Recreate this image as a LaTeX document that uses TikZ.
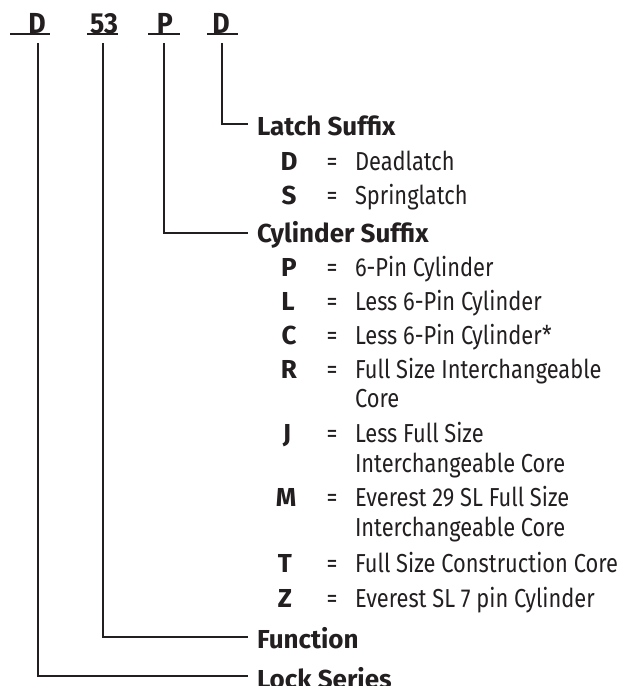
\documentclass[tikz,border=0pt]{standalone}
\usepackage{fontspec}
\setmainfont{Fira Sans}[FakeStretch=0.84]
\newfontfamily\labelfont{Fira Sans}[FakeStretch=1.0]
\newfontfamily\topfont{Fira Sans}[FakeStretch=0.92]
\definecolor{ink}{HTML}{231F20}
\begin{document}
\begin{tikzpicture}[x=1pt,y=-1pt,
  every node/.style={inner sep=0pt,outer sep=0pt,text=ink},
  topl/.style={anchor=base,font=\topfont\fontsize{29}{32}\selectfont\bfseries},
  lbl/.style={anchor=base west,font=\labelfont\fontsize{26}{30}\selectfont\bfseries},
  keyl/.style={anchor=base,font=\labelfont\fontsize{26}{30}\selectfont\bfseries},
  eql/.style={anchor=base,font=\fontsize{26}{30}\selectfont},
  desc/.style={anchor=base west,font=\fontsize{26}{30}\selectfont},
  conn/.style={draw=ink,line width=2.4pt},
  uline/.style={draw=ink,line width=1.6pt}]
\useasboundingbox (0,0) rectangle (622,686);
% top code
\node[topl] (t1) at (37,33) {D};
\node[topl] (t2) at (104,33) {53};
\node[topl] (t3) at (165,33) {P};
\node[topl] (t4) at (221,33) {D};
\coordinate (u1a) at (10,34); \coordinate (u1b) at (50,34);
\coordinate (u2a) at (87,34); \coordinate (u2b) at (118,34);
\coordinate (u3a) at (148,34); \coordinate (u3b) at (180,34);
\coordinate (u4a) at (207,34); \coordinate (u4b) at (238,34);
\draw[uline] (u1a) -- (u1b);
\draw[uline] (u2a) -- (u2b);
\draw[uline] (u3a) -- (u3b);
\draw[uline] (u4a) -- (u4b);
% labels
\node[lbl] (latch) at (257,135) {Latch Suffix};
\node[keyl] (kD) at (289,170) {D};
\node[eql] (eD) at (332,170) {=};
\node[desc] (dD) at (355,170) {Deadlatch};
\node[keyl] (kS) at (289,204) {S};
\node[eql] (eS) at (332,204) {=};
\node[desc] (dS) at (355,204) {Springlatch};
\node[lbl] (cyl) at (257,242) {Cylinder Suffix};
\node[keyl] (kP) at (289,276) {P};
\node[eql] (eP) at (332,276) {=};
\node[desc] (dP) at (355,276) {6-Pin Cylinder};
\node[keyl] (kL) at (288,310) {L};
\node[eql] (eL) at (332,310) {=};
\node[desc] (dL) at (355,310) {Less 6-Pin Cylinder};
\node[keyl] (kC) at (289,344) {C};
\node[eql] (eC) at (332,344) {=};
\node[desc] (dC) at (355,344) {Less 6-Pin Cylinder*};
\node[keyl] (kR) at (289,378) {R};
\node[eql] (eR) at (332,378) {=};
\node[desc] (dR) at (355,378) {Full Size Interchangeable};
\node[desc] (dR2) at (355,407) {Core};
\node[keyl] (kJ) at (287,442) {J};
\node[eql] (eJ) at (332,442) {=};
\node[desc] (dJ) at (355,442) {Less Full Size};
\node[desc] (dJ2) at (355,472) {Interchangeable Core};
\node[keyl] (kM) at (286,506) {M};
\node[eql] (eM) at (332,506) {=};
\node[desc] (dM) at (355,506) {Everest 29 SL Full Size};
\node[desc] (dM2) at (355,536) {Interchangeable Core};
\node[keyl] (kT) at (285,572) {T};
\node[eql] (eT) at (332,572) {=};
\node[desc] (dT) at (355,572) {Full Size Construction Core};
\node[keyl] (kZ) at (285,607) {Z};
\node[eql] (eZ) at (332,607) {=};
\node[desc] (dZ) at (355,607) {Everest SL 7 pin Cylinder};
\node[lbl] (func) at (257,648) {Function};
\node[lbl] (lock) at (257,688) {Lock Series};
% connectors
\coordinate (v4) at (222,43); \coordinate (h4) at (248,124);
\coordinate (v3) at (164,43); \coordinate (h3) at (248,233);
\coordinate (v2) at (103,43); \coordinate (h2) at (248,637);
\coordinate (v1) at (38,43);  \coordinate (h1) at (248,676);
\draw[conn] (v4) |- (h4);
\draw[conn] (v3) |- (h3);
\draw[conn] (v2) |- (h2);
\draw[conn] (v1) |- (h1);
\end{tikzpicture}
\end{document}
